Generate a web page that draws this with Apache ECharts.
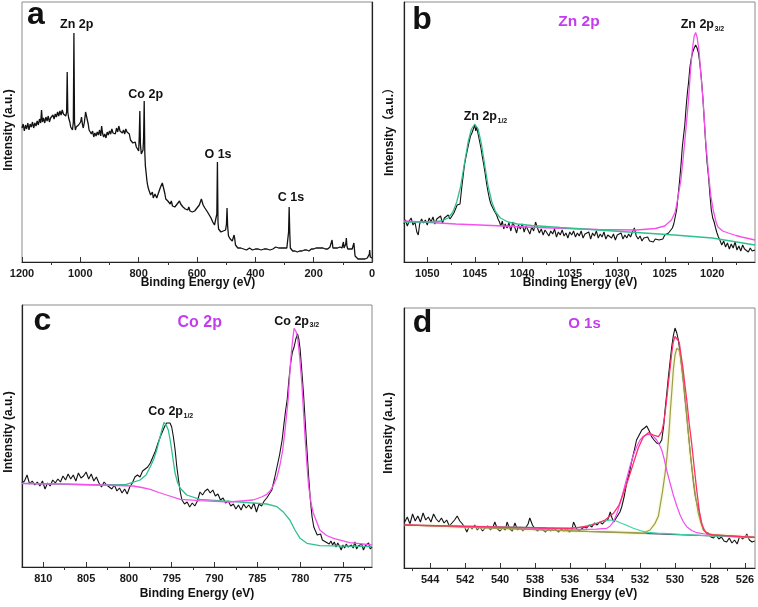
<!DOCTYPE html>
<html><head><meta charset="utf-8">
<script src="https://cdn.jsdelivr.net/npm/echarts@6/dist/echarts.min.js"></script>
<style>html,body{margin:0;padding:0;background:#fff}#c{width:758px;height:607px}</style>
</head><body><div id="c"></div>
<script>
// ---------- Panel a: survey spectrum [binding energy eV, intensity a.u.] ----------
const surveyData = [[1200,134],[1196,138],[1192,131],[1188,137],[1184,133],[1180,139],[1176,132],[1172,138],[1168,135],[1164,140],[1160,134],[1156,139],[1152,136],[1148,141],[1144,137],[1140,143],[1136,139],[1133,152],[1130,140],[1126,144],[1122,139],[1118,145],[1114,141],[1110,146],[1106,140],[1102,144],[1098,142],[1094,147],[1090,143],[1086,148],[1082,145],[1078,150],[1074,146],[1070,151],[1066,147],[1062,152],[1058,148],[1054,150],[1050,146],[1047,150],[1045,190],[1043,150],[1040,144],[1036,140],[1033,135],[1030,134],[1027,132],[1024,140],[1022,229],[1020,140],[1017,132],[1014,135],[1010,133],[1006,137],[1003,136],[999,140],[996,145],[993,138],[990,134],[986,140],[982,150],[979,152],[976,148],[973,138],[970,132],[966,130],[962,128],[958,131],[954,125],[950,129],[946,126],[942,130],[938,127],[934,132],[930,126],[927,136],[924,129],[920,125],[916,128],[912,124],[908,130],[904,127],[900,131],[896,128],[892,133],[888,129],[884,131],[880,128],[876,134],[872,130],[868,136],[864,131],[860,133],[856,129],[852,132],[848,128],[844,133],[840,130],[836,131],[832,128],[828,122],[824,121],[820,119],[816,118],[812,120],[808,115],[804,113],[800,111],[798,125],[796,151],[794,118],[791,108],[788,107],[785,112],[783,125],[781,161],[779,110],[777,96],[774,88],[772,82],[770,78],[768,75],[765,72],[762,70],[759,67],[756,66],[753,70],[750,64],[747,66],[744,68],[741,70],[738,64],[735,66],[731,70],[728,72],[725,75],[722,76],[719,79],[716,78],[713,72],[710,68],[707,63],[704,62],[700,61],[696,60],[692,58],[688,61],[684,56],[680,58],[676,55],[672,57],[668,58],[664,60],[660,61],[656,58],[652,57],[648,55],[644,56],[640,53],[636,54],[632,52],[628,55],[624,51],[620,53],[616,50],[612,52],[608,51],[604,53],[600,54],[596,55],[592,57],[588,59],[585,63],[582,60],[579,57],[576,58],[573,54],[570,52],[567,53],[564,50],[561,48],[558,47],[555,45],[552,44],[549,42],[546,40],[543,38],[540,37],[537,36],[534,35],[532,48],[530,100],[528,40],[526,33],[522,31],[518,30],[514,32],[510,31],[506,33],[502,32],[499,38],[497,54],[495,36],[492,26],[489,24],[486,23],[482,22],[479,21],[476,22],[473,27],[471,24],[468,17],[465,15],[460,14],[455,13],[450,14],[445,12],[440,13],[435,14],[430,12],[425,13],[420,14],[415,13],[410,12],[405,14],[400,13],[395,15],[390,13],[385,14],[380,12],[375,14],[370,13],[365,15],[360,13],[355,14],[350,12],[345,14],[340,13],[335,14],[330,15],[325,13],[320,14],[315,15],[310,14],[305,16],[300,14],[296,15],[292,14],[288,16],[286,30],[284,55],[282,30],[280,14],[276,12],[272,11],[268,12],[264,11],[260,12],[256,10],[252,12],[248,11],[244,12],[240,11],[236,13],[232,12],[228,11],[224,12],[220,13],[216,11],[212,12],[208,13],[204,12],[200,13],[196,12],[192,14],[188,13],[184,14],[180,12],[176,14],[172,13],[168,14],[164,12],[160,13],[156,14],[152,13],[148,14],[144,15],[140,16],[137,22],[134,14],[130,12],[126,14],[122,13],[118,14],[114,13],[110,15],[106,16],[103,14],[100,15],[98,20],[96,14],[93,13],[90,18],[88,24],[86,16],[83,13],[80,12],[76,13],[72,12],[68,13],[65,14],[62,19],[60,12],[58,6],[56,4],[52,4],[48,3],[44,4],[40,3],[36,4],[32,3],[28,4],[24,3],[20,4],[16,4],[12,5],[9,8],[8,12],[6,5],[3,4],[0,4]];

// ---------- Panel b: Zn 2p ----------
const zn2pRaw = [[1052.45,38],[1052.3,42],[1052.1,36],[1051.9,41],[1051.7,44],[1051.5,37],[1051.3,40],[1051.1,30],[1050.95,27],[1050.8,38],[1050.6,43],[1050.4,39],[1050.2,42],[1050.0,37],[1049.8,44],[1049.6,40],[1049.4,45],[1049.2,38],[1049.0,43],[1048.8,41],[1048.6,46],[1048.4,39],[1048.2,44],[1048.0,42],[1047.8,47],[1047.6,43],[1047.4,46],[1047.2,49],[1047.0,51],[1046.85,57],[1046.7,59],[1046.55,58],[1046.4,72],[1046.25,84],[1046.1,96],[1045.95,104],[1045.8,111],[1045.6,120],[1045.45,126],[1045.3,129],[1045.15,133],[1045.0,137],[1044.9,131],[1044.8,135],[1044.65,128],[1044.5,121],[1044.35,114],[1044.2,105],[1044.05,97],[1043.9,88],[1043.75,78],[1043.6,70],[1043.45,63],[1043.3,58],[1043.15,56],[1043.0,52],[1042.85,50],[1042.7,47],[1042.55,43],[1042.4,40],[1042.25,36],[1042.1,41],[1041.95,33],[1041.8,38],[1041.6,34],[1041.4,39],[1041.2,31],[1041.0,40],[1040.8,35],[1040.6,29],[1040.4,37],[1040.2,33],[1040.0,38],[1039.8,30],[1039.6,36],[1039.4,32],[1039.2,28],[1039.0,35],[1038.8,31],[1038.6,40],[1038.4,34],[1038.2,29],[1038.0,33],[1037.8,27],[1037.6,32],[1037.4,30],[1037.2,26],[1037.0,31],[1036.8,28],[1036.6,33],[1036.4,25],[1036.2,30],[1036.0,27],[1035.8,32],[1035.6,26],[1035.4,29],[1035.2,24],[1035.0,30],[1034.8,27],[1034.6,31],[1034.4,25],[1034.2,29],[1034.0,26],[1033.8,31],[1033.6,24],[1033.4,28],[1033.2,26],[1033.0,30],[1032.8,23],[1032.6,29],[1032.4,26],[1032.2,31],[1032.0,24],[1031.8,28],[1031.6,25],[1031.4,30],[1031.2,23],[1031.0,27],[1030.8,29],[1030.6,24],[1030.4,28],[1030.2,22],[1030.0,27],[1029.8,25],[1029.6,29],[1029.4,23],[1029.2,27],[1029.0,24],[1028.8,28],[1028.6,25],[1028.4,30],[1028.2,34],[1028.0,26],[1027.8,23],[1027.6,26],[1027.4,21],[1027.2,24],[1027.0,22],[1026.8,25],[1026.6,21],[1026.4,22],[1026.2,20],[1026.0,23],[1025.8,21],[1025.6,22],[1025.4,24],[1025.2,23],[1025.0,27],[1024.8,26],[1024.6,29],[1024.4,31],[1024.2,34],[1024.05,38],[1023.9,45],[1023.75,52],[1023.6,66],[1023.45,80],[1023.3,96],[1023.15,115],[1023.0,128],[1022.9,136],[1022.75,155],[1022.6,171],[1022.5,179],[1022.35,195],[1022.2,204],[1022.05,210],[1021.9,214],[1021.75,217],[1021.6,214],[1021.45,209],[1021.3,198],[1021.15,184],[1021.0,166],[1020.85,143],[1020.7,120],[1020.55,100],[1020.4,86],[1020.25,68],[1020.1,52],[1019.95,44],[1019.8,40],[1019.65,34],[1019.5,29],[1019.35,25],[1019.2,22],[1019.0,17],[1018.8,21],[1018.6,15],[1018.4,19],[1018.2,13],[1018.0,18],[1017.8,14],[1017.6,20],[1017.4,12],[1017.2,16],[1017.0,11],[1016.8,17],[1016.6,13],[1016.4,15],[1016.2,10],[1016.0,14],[1015.8,11],[1015.6,13],[1015.5,12]];
const zn2p32Fit = [[1052.45,41],[1047,38],[1042,36],[1037,34],[1032,32.5],[1028,32],[1026,33.5],[1025,36],[1024.3,42],[1023.9,50],[1023.6,65],[1023.3,82],[1023.05,105],[1022.8,130],[1022.5,162],[1022.3,190],[1022.1,212],[1021.9,226],[1021.75,229.5],[1021.6,225],[1021.4,212],[1021.2,188],[1020.95,159],[1020.7,122],[1020.4,89],[1020.15,66],[1019.9,52],[1019.6,40],[1019.4,35],[1018.9,31],[1018.3,29],[1017.5,26.5],[1016.9,25],[1015.5,22]];
const zn2p12Fit = [[1052.45,40],[1049.5,40],[1048.5,41],[1047.8,44],[1047.3,50],[1046.9,60],[1046.5,75],[1046.1,98],[1045.7,120],[1045.35,133],[1045.0,138],[1044.65,133],[1044.3,118],[1043.95,97],[1043.6,76],[1043.2,60],[1042.8,50],[1042.3,44],[1041.5,40],[1040.5,38],[1039,36.5],[1036,34.5],[1032,32],[1028,29.5],[1024,27],[1020,24],[1015.5,17]];

// ---------- Panel c: Co 2p ----------
const co2pRaw = [[812.5,84],[812.2,86],[811.9,92],[811.6,83],[811.3,86],[811.0,82],[810.7,85],[810.4,81],[810.1,86],[809.8,78],[809.5,84],[809.2,81],[808.9,87],[808.6,84],[808.3,88],[808.0,85],[807.7,91],[807.4,87],[807.1,93],[806.8,88],[806.5,92],[806.2,86],[805.9,94],[805.6,89],[805.3,91],[805.0,95],[804.7,88],[804.4,93],[804.1,86],[803.8,90],[803.5,84],[803.2,80],[802.9,85],[802.6,82],[802.3,80],[802.0,78],[801.7,82],[801.4,76],[801.1,79],[800.8,74],[800.5,78],[800.2,73],[799.9,80],[799.6,84],[799.3,90],[799.0,92],[798.7,90],[798.4,96],[798.1,98],[797.8,100],[797.5,104],[797.2,110],[796.9,116],[796.6,124],[796.3,131],[796.0,137],[795.8,141],[795.6,144],[795.4,146],[795.2,144],[795.0,140],[794.8,130],[794.6,117],[794.4,100],[794.2,87],[794.0,75],[793.8,67],[793.5,63],[793.2,65],[792.9,60],[792.6,64],[792.3,61],[792.0,66],[791.7,75],[791.4,72],[791.1,76],[790.8,78],[790.5,74],[790.2,77],[789.9,71],[789.6,73],[789.3,67],[789.0,69],[788.7,64],[788.4,66],[788.1,61],[787.8,63],[787.5,58],[787.2,62],[786.9,57],[786.6,63],[786.3,59],[786.0,62],[785.7,58],[785.4,64],[785.1,55],[784.8,63],[784.5,61],[784.2,66],[783.9,69],[783.6,73],[783.3,77],[783.0,88],[782.7,100],[782.4,112],[782.1,127],[781.9,142],[781.7,156],[781.5,168],[781.3,188],[781.1,204],[780.9,215],[780.7,220],[780.5,228],[780.3,233],[780.15,228],[780.0,218],[779.8,196],[779.6,173],[779.4,145],[779.2,117],[779.0,90],[778.8,67],[778.6,50],[778.4,40],[778.2,36],[778.0,32],[777.8,30],[777.6,33],[777.4,27],[777.2,29],[777.0,25],[776.8,27],[776.6,23],[776.4,26],[776.2,22],[776.0,25],[775.8,20],[775.6,24],[775.4,21],[775.2,17],[775.0,22],[774.8,19],[774.6,23],[774.4,20],[774.2,18],[774.0,22],[773.8,19],[773.6,25],[773.4,18],[773.2,21],[773.0,19],[772.8,23],[772.6,17],[772.4,21],[772.2,19],[772.0,24],[771.8,18],[771.6,20]];
const co2p12Fit = [[812.5,83.7],[807.3,82.7],[803.4,82],[800.3,82.7],[798.7,87],[798.0,92],[797.5,100.3],[797.1,108],[796.75,117],[796.45,127],[796.2,135.3],[795.9,144.7],[795.65,142],[795.4,137],[795.2,128],[795.0,117],[794.8,105],[794.6,93.7],[794.3,84],[794.0,78.7],[793.25,72],[791.7,67.7],[787.8,65.3],[783.9,63],[782.7,60.3],[782.0,55.3],[781.2,47],[780.6,37],[780.0,28.7],[779.2,23.7],[777.7,21.3],[771.6,20.3]];
const co2p32Fit = [[812.5,83.5],[807.3,83],[803.4,82],[799.5,81],[798.5,79.5],[797.5,77.7],[796.5,74.5],[795.6,72],[794.0,67.7],[791.7,66.3],[788.2,65],[785.5,67],[784.5,70],[783.9,72.7],[783.5,76],[783.1,82],[782.7,90],[782.35,102],[782.05,116],[781.8,133.7],[781.6,150],[781.4,167],[781.25,187],[781.1,207],[780.9,225],[780.7,238.7],[780.5,236],[780.3,230],[780.05,210],[779.8,183.7],[779.6,155],[779.4,127],[779.2,102],[779.0,80.3],[778.7,63],[778.45,53.7],[777.7,37],[776.9,31.5],[776.1,28.7],[774.2,24.3],[771.6,22]];

// ---------- Panel d: O 1s ----------
const o1sRaw = [[545.45,46],[545.3,51],[545.15,44],[545.0,54],[544.85,47],[544.7,52],[544.55,46],[544.4,55],[544.25,48],[544.1,51],[543.95,46],[543.8,54],[543.65,49],[543.5,46],[543.35,50],[543.2,45],[543.05,48],[542.9,42],[542.75,45],[542.6,48],[542.45,52],[542.3,47],[542.15,44],[542.0,40],[541.9,36],[541.75,42],[541.6,39],[541.45,43],[541.3,38],[541.15,41],[541.0,37],[540.85,40],[540.7,42],[540.55,38],[540.4,41],[540.3,46],[540.15,39],[540.0,37],[539.85,40],[539.7,38],[539.6,46],[539.45,39],[539.3,37],[539.15,45],[539.0,38],[538.85,41],[538.7,37],[538.55,40],[538.4,44],[538.3,50],[538.15,43],[538.0,39],[537.85,37],[537.7,40],[537.55,38],[537.4,36],[537.25,39],[537.1,37],[536.95,40],[536.8,38],[536.65,36],[536.5,39],[536.35,37],[536.2,40],[536.05,36],[535.9,38],[535.8,46],[535.65,40],[535.5,37],[535.35,39],[535.2,41],[535.05,40],[534.9,43],[534.75,41],[534.6,45],[534.45,43],[534.3,46],[534.15,44],[534.0,47],[533.85,48],[533.7,56],[533.6,50],[533.5,46],[533.4,49],[533.3,51],[533.15,56],[533.05,61],[532.9,72],[532.76,85],[532.6,96],[532.5,105],[532.35,116],[532.2,128],[532.05,133],[531.9,138],[531.75,140],[531.62,142],[531.5,138],[531.33,131],[531.2,128],[531.05,125],[530.9,124],[530.76,128],[530.65,142],[530.57,158],[530.47,175],[530.38,191],[530.28,207],[530.19,221],[530.1,232],[530.0,240],[529.9,235],[529.81,228],[529.72,216],[529.62,201],[529.52,185],[529.43,168],[529.33,151],[529.24,135],[529.1,110],[528.95,85],[528.85,72],[528.75,64],[528.67,60],[528.55,50],[528.45,42],[528.38,38],[528.25,36],[528.1,35],[527.95,31],[527.8,30],[527.65,33],[527.5,29],[527.35,31],[527.2,27],[527.05,26],[526.9,30],[526.75,25],[526.6,28],[526.45,24],[526.3,32],[526.15,29],[526.0,31],[525.9,34],[525.75,28],[525.6,26],[525.45,27]];
const o1sEnvelope = [[545.45,43],[541.14,41.3],[537.33,40],[536,39.7],[535.05,41.5],[534.48,44.5],[534.0,48],[533.52,54.7],[533.2,63],[532.95,74.7],[532.65,90],[532.38,104.7],[532.1,120],[531.81,131.3],[531.52,135.3],[531.24,133],[530.95,131.3],[530.76,136.3],[530.65,145],[530.57,154.7],[530.47,170],[530.38,184.7],[530.28,200],[530.19,214.7],[530.1,226],[530.0,231.5],[529.9,232],[529.8,227],[529.75,224.7],[529.65,212],[529.56,201.3],[529.45,185],[529.33,168],[529.2,146],[529.05,124.7],[528.9,100],[528.76,78],[528.62,58],[528.48,44.7],[528.33,38],[528.19,34.7],[527.81,33],[525.45,30.7]];
const o1sPeak531 = [[545.45,43],[537.33,39.5],[535.43,38.7],[534.5,38.8],[533.9,39.7],[533.7,42],[533.52,46.3],[533.33,54],[533.14,64.7],[532.95,77],[532.76,89.7],[532.57,102],[532.38,113],[532.2,121],[532.0,128],[531.81,131.5],[531.62,133.3],[531.45,133.5],[531.33,133],[531.2,131],[531.05,128],[530.9,123.5],[530.76,118],[530.62,109],[530.48,98],[530.3,86],[530.1,73],[529.9,62],[529.71,53],[529.52,46],[529.33,41.3],[529.05,37.5],[528.76,35.3],[528.3,34],[527.81,33],[525.45,30.7]];
const o1sPeak530 = [[545.45,43],[535,36.6],[532.3,35.3],[531.81,35],[531.43,38],[531.14,44.7],[530.95,52],[530.86,61.3],[530.72,76],[530.57,94.7],[530.47,110],[530.38,128],[530.31,145],[530.25,161.3],[530.17,180],[530.1,198],[530.0,213],[529.9,219.7],[529.83,220.3],[529.77,218],[529.7,212],[529.62,201.3],[529.52,187],[529.43,171.3],[529.33,153],[529.24,134.7],[529.1,110],[528.95,88],[528.81,70],[528.67,54.7],[528.52,45],[528.38,38.7],[528.24,35.5],[528.1,33.7],[527.5,33],[525.45,30.7]];
const o1sPeak533 = [[545.45,43],[540,41.2],[537,40.2],[536,40],[535.43,40.7],[535.0,42.5],[534.5,44.7],[534.1,46.8],[533.7,48],[533.4,47.3],[533.14,45.3],[532.8,43],[532.38,39.7],[532,37.5],[531.62,35.7],[531,35],[530.67,34.7],[529.71,33.7],[527.81,32],[525.45,30.7]];
const o1sBackground = [[545.45,43],[525.45,30.7]];

// ---------- axis ranges and ticks ----------
const ranges = [[0,1200],[1015.5,1052.45],[771.6,812.49],[525.43,545.49]];
const majorTicks = [
  [0,200,400,600,800,1000,1200],
  [1020,1025,1030,1035,1040,1045,1050],
  [775,780,785,790,795,800,805,810],
  [526,528,530,532,534,536,538,540,542,544]
];
const minorTicks = [
  [100,300,500,700,900,1100],
  [1017.5,1022.5,1027.5,1032.5,1037.5,1042.5,1047.5],
  [772.5,777.5,782.5,787.5,792.5,797.5,802.5,807.5],
  [527,529,531,533,535,537,539,541,543,545]
];
const yMax = [260,260,262,260];

const grids = [
  {left:22, top:2, width:350, height:260},
  {left:404, top:2, width:351, height:260},
  {left:22, top:305, width:350, height:262},
  {left:404, top:308, width:351, height:260}
];

const FONT = '"Liberation Sans", Arial, "Noto Sans CJK SC", sans-serif';
const xAxes = [], yAxes = [];
grids.forEach((g, i) => {
  xAxes.push({
    type:'value', gridIndex:i, min:ranges[i][0], max:ranges[i][1], inverse:true,
    axisLine:{show:true, onZero:false, lineStyle:{color:'#222', width:1.2}},
    axisTick:{show:true, inside:true, length:5, customValues:majorTicks[i], lineStyle:{color:'#333', width:1}},
    axisLabel:{show:true, customValues:majorTicks[i], margin:6, fontFamily:FONT, fontWeight:'bold', fontSize:11, color:'#1a1a1a',
      formatter:(v)=>String(v)},
    splitLine:{show:false}
  });
  xAxes.push({
    type:'value', gridIndex:i, min:ranges[i][0], max:ranges[i][1], inverse:true,
    axisLine:{show:false},
    axisTick:{show:true, inside:true, length:3, customValues:minorTicks[i], lineStyle:{color:'#333', width:1}},
    axisLabel:{show:false},
    splitLine:{show:false}
  });
  yAxes.push({
    type:'value', gridIndex:i, min:0, max:yMax[i],
    axisLine:{show:true, lineStyle:{color:'#222', width:1.2}},
    axisTick:{show:false}, axisLabel:{show:false}, splitLine:{show:false}
  });
});

function line(data, panel, color, width, z) {
  return {type:'line', xAxisIndex:panel*2, yAxisIndex:panel, data:data, symbol:'none', showSymbol:false,
    lineStyle:{color:color, width:width}, itemStyle:{color:color}, z:z||2, animation:false, clip:true, silent:true};
}

const BLACK = '#121212', MAG = '#f550ee', GRN = '#2fc08c';
const series = [
  line(surveyData, 0, BLACK, 1.3, 3),
  line(zn2pRaw, 1, BLACK, 1.1, 3),
  line(zn2p32Fit, 1, MAG, 1.3, 4),
  line(zn2p12Fit, 1, GRN, 1.3, 5),
  line(co2pRaw, 2, BLACK, 1.1, 3),
  line(co2p12Fit, 2, GRN, 1.3, 4),
  line(co2p32Fit, 2, MAG, 1.3, 5),
  line(o1sRaw, 3, BLACK, 1.1, 3),
  line(o1sBackground, 3, '#4a5068', 1.2, 4),
  line(o1sPeak530, 3, 'rgba(240,240,170,0.4)', 4, 4),
  line(o1sPeak533, 3, '#3ad4a4', 1.2, 5),
  line(o1sPeak531, 3, '#f24df2', 1.2, 5),
  line(o1sPeak530, 3, '#9c9c4c', 1.2, 6),
  line(o1sEnvelope, 3, '#ff2f6a', 1.3, 7)
];

function txt(x, y, text, size, color, align, rot) {
  const o = {type:'text', x:x, y:y, silent:true, z:100,
    style:{text:text, fontFamily:FONT, fontWeight:'bold', fontSize:size, fill:color||'#111',
      textAlign:align||'center', textVerticalAlign:'middle'}};
  if (rot) o.rotation = rot;
  return o;
}
const graphics = [
  // panel letters
  txt(36, 15, 'a', 32), txt(422, 20, 'b', 32), txt(42.5, 321, 'c', 32), txt(422.5, 323, 'd', 32),
  // panel a annotations
  txt(76.7, 25, 'Zn 2p', 12.5), txt(145.7, 94.5, 'Co 2p', 12.5), txt(218, 155, 'O 1s', 12.5), txt(291, 198, 'C 1s', 12.5),
  // panel b
  txt(579, 21.5, 'Zn 2p', 15.5, '#c43cf0'),
  txt(714, 25, 'Zn 2p', 12.5, '#111', 'right'), txt(714.5, 29, '3/2', 7, '#111', 'left'),
  txt(497, 117, 'Zn 2p', 12.5, '#111', 'right'), txt(497.5, 121, '1/2', 7, '#111', 'left'),
  // panel c
  txt(199.7, 323, 'Co 2p', 16, '#c43cf0'),
  txt(309, 321.5, 'Co 2p', 12.5, '#111', 'right'), txt(309.5, 325.5, '3/2', 7, '#111', 'left'),
  txt(183, 412, 'Co 2p', 12.5, '#111', 'right'), txt(183.5, 416, '1/2', 7, '#111', 'left'),
  // panel d
  txt(584.5, 323.5, 'O 1s', 15, '#c43cf0'),
  // axis titles
  txt(198, 283, 'Binding Energy (eV)', 12), txt(580, 283, 'Binding Energy (eV)', 12),
  txt(197, 593.5, 'Binding Energy (eV)', 12), txt(580, 593.5, 'Binding Energy (eV)', 12),
  txt(8.5, 130, 'Intensity (a.u.)', 12, '#111', 'center', Math.PI/2),
  txt(390, 129, 'Intensity\uFF08a.u.\uFF09', 12, '#111', 'center', Math.PI/2),
  txt(8.5, 432, 'Intensity (a.u.)', 12, '#111', 'center', Math.PI/2),
  txt(388.5, 433, 'Intensity (a.u.)', 12, '#111', 'center', Math.PI/2)
];

const chart = echarts.init(document.getElementById('c'), null, {renderer:'canvas'});
chart.setOption({
  animation:false,
  backgroundColor:'#ffffff',
  grid: grids.map(g => Object.assign({show:true, borderColor:'#8a8a8a', borderWidth:1, backgroundColor:'transparent', containLabel:false}, g)),
  xAxis: xAxes,
  yAxis: yAxes,
  series: series,
  graphic: graphics
});
</script></body></html>
